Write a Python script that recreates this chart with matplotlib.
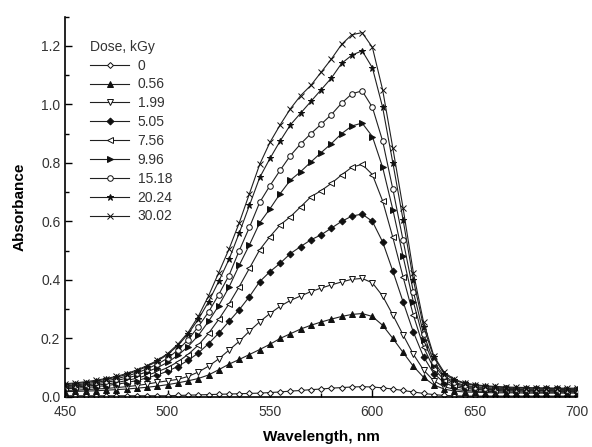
import numpy as np
import matplotlib.pyplot as plt
from matplotlib.ticker import MultipleLocator

plt.rcParams['font.family'] = ['Liberation Sans', 'DejaVu Sans']

wl = list(range(450, 701, 5))

doses = ['0', '0.56', '1.99', '5.05', '7.56', '9.96', '15.18', '20.24', '30.02']

a_0 = [0.004, 0.004, 0.004, 0.004, 0.004, 0.004, 0.004, 0.004, 0.004, 0.004,
       0.004, 0.005, 0.006, 0.007, 0.008, 0.009, 0.010, 0.011, 0.012, 0.013,
       0.015, 0.017, 0.020, 0.022, 0.025, 0.027, 0.030, 0.032, 0.034, 0.035,
       0.034, 0.031, 0.027, 0.022, 0.017, 0.012, 0.008, 0.005, 0.004, 0.003,
       0.003, 0.003, 0.003, 0.003, 0.003, 0.003, 0.003, 0.003, 0.003, 0.003, 0.003]
a_056 = [0.018, 0.019, 0.020, 0.021, 0.023, 0.025, 0.027, 0.030, 0.033, 0.037,
         0.042, 0.048, 0.055, 0.063, 0.075, 0.093, 0.112, 0.128, 0.145, 0.162,
         0.180, 0.200, 0.216, 0.232, 0.245, 0.256, 0.266, 0.275, 0.282, 0.285,
         0.275, 0.245, 0.200, 0.152, 0.105, 0.067, 0.041, 0.027, 0.020, 0.017,
         0.016, 0.015, 0.014, 0.014, 0.014, 0.013, 0.013, 0.013, 0.013, 0.013, 0.013]
a_199 = [0.022, 0.023, 0.025, 0.027, 0.029, 0.032, 0.035, 0.039, 0.044, 0.050,
         0.055, 0.060, 0.070, 0.085, 0.105, 0.130, 0.160, 0.190, 0.225, 0.257,
         0.285, 0.310, 0.330, 0.345, 0.360, 0.372, 0.383, 0.393, 0.402, 0.405,
         0.390, 0.345, 0.280, 0.212, 0.146, 0.092, 0.055, 0.035, 0.026, 0.022,
         0.020, 0.019, 0.018, 0.017, 0.017, 0.017, 0.016, 0.016, 0.016, 0.016, 0.016]
a_505 = [0.028, 0.030, 0.032, 0.035, 0.039, 0.043, 0.049, 0.056, 0.065, 0.075,
         0.088, 0.104, 0.125, 0.150, 0.182, 0.218, 0.258, 0.298, 0.343, 0.394,
         0.428, 0.457, 0.490, 0.514, 0.537, 0.554, 0.577, 0.600, 0.618, 0.625,
         0.600, 0.530, 0.430, 0.325, 0.222, 0.137, 0.080, 0.049, 0.035, 0.029,
         0.026, 0.024, 0.022, 0.021, 0.021, 0.020, 0.020, 0.020, 0.019, 0.019, 0.019]
a_756 = [0.032, 0.034, 0.037, 0.040, 0.044, 0.049, 0.056, 0.064, 0.074, 0.086,
         0.100, 0.120, 0.145, 0.177, 0.217, 0.265, 0.318, 0.377, 0.440, 0.503,
         0.548, 0.588, 0.616, 0.650, 0.684, 0.705, 0.730, 0.759, 0.785, 0.795,
         0.760, 0.670, 0.545, 0.410, 0.280, 0.170, 0.097, 0.058, 0.041, 0.033,
         0.029, 0.026, 0.025, 0.024, 0.023, 0.023, 0.022, 0.022, 0.021, 0.021, 0.021]
a_996 = [0.035, 0.038, 0.041, 0.045, 0.050, 0.056, 0.064, 0.074, 0.086, 0.100,
         0.118, 0.142, 0.172, 0.210, 0.258, 0.312, 0.375, 0.450, 0.520, 0.595,
         0.643, 0.695, 0.741, 0.770, 0.803, 0.835, 0.866, 0.900, 0.926, 0.936,
         0.890, 0.785, 0.640, 0.480, 0.325, 0.195, 0.110, 0.066, 0.046, 0.037,
         0.032, 0.029, 0.027, 0.026, 0.025, 0.025, 0.024, 0.024, 0.023, 0.023, 0.023]
a_1518 = [0.038, 0.041, 0.045, 0.050, 0.055, 0.062, 0.071, 0.082, 0.096, 0.112,
          0.132, 0.160, 0.195, 0.240, 0.290, 0.350, 0.415, 0.500, 0.580, 0.665,
          0.722, 0.775, 0.825, 0.865, 0.900, 0.932, 0.965, 1.004, 1.036, 1.046,
          0.990, 0.875, 0.710, 0.535, 0.360, 0.215, 0.120, 0.072, 0.050, 0.040,
          0.035, 0.032, 0.030, 0.029, 0.028, 0.027, 0.027, 0.026, 0.026, 0.025, 0.025]
a_2024 = [0.042, 0.045, 0.049, 0.054, 0.060, 0.067, 0.077, 0.089, 0.104, 0.122,
          0.145, 0.175, 0.215, 0.265, 0.325, 0.395, 0.470, 0.560, 0.655, 0.750,
          0.815, 0.875, 0.930, 0.970, 1.010, 1.050, 1.090, 1.140, 1.168, 1.183,
          1.125, 0.990, 0.800, 0.605, 0.400, 0.240, 0.135, 0.080, 0.057, 0.046,
          0.040, 0.036, 0.034, 0.032, 0.031, 0.030, 0.030, 0.029, 0.029, 0.028, 0.028]
a_3002 = [0.045, 0.048, 0.052, 0.057, 0.063, 0.070, 0.080, 0.092, 0.107, 0.125,
          0.148, 0.180, 0.220, 0.275, 0.345, 0.425, 0.505, 0.595, 0.695, 0.795,
          0.870, 0.930, 0.985, 1.030, 1.065, 1.110, 1.155, 1.205, 1.238, 1.245,
          1.195, 1.050, 0.850, 0.645, 0.425, 0.255, 0.140, 0.085, 0.060, 0.048,
          0.042, 0.038, 0.036, 0.034, 0.033, 0.032, 0.031, 0.031, 0.030, 0.030, 0.030]

series = [a_0, a_056, a_199, a_505, a_756, a_996, a_1518, a_2024, a_3002]

# marker, filled?
markers = [('D', False), ('^', True), ('v', False), ('D', True), ('<', False),
           ('>', True), ('o', False), ('*', True), ('x', True)]
sizes = [3, 4, 4, 3.5, 4, 4, 4, 5, 4]

fig = plt.figure(figsize=(5.92, 4.47), dpi=100)
ax = fig.add_axes([0.11, 0.112, 0.865, 0.851])

for vals, lab, (m, filled), ms in zip(series, doses, markers, sizes):
    ax.plot(wl, vals, color='#202020', lw=0.8, marker=m, ms=ms,
            mfc='#101010' if filled else 'white', mec='#101010', mew=0.7,
            label=lab)

ax.set_xlim(450, 700)
ax.set_ylim(0, 1.3)
ax.xaxis.set_major_locator(MultipleLocator(50))
ax.xaxis.set_minor_locator(MultipleLocator(25))
ax.yaxis.set_major_locator(MultipleLocator(0.2))
ax.yaxis.set_minor_locator(MultipleLocator(0.1))
ax.yaxis.set_major_formatter(plt.FormatStrFormatter('%.1f'))
ax.tick_params(which='both', direction='in', labelsize=10, labelcolor='#333333')
ax.tick_params(which='major', length=5, width=1)
ax.tick_params(which='minor', length=3, width=1)
ax.tick_params(axis='x', pad=6)
ax.spines['top'].set_visible(False)
ax.spines['right'].set_visible(False)
ax.spines['left'].set_linewidth(1.2)
ax.spines['bottom'].set_linewidth(1.2)

ax.set_xlabel('Wavelength, nm', fontsize=11, fontweight='bold', labelpad=8)
ax.set_ylabel('Absorbance', fontsize=11, fontweight='bold', labelpad=10)

leg = ax.legend(title='Dose, kGy', loc='upper left', bbox_to_anchor=(0.025, 0.972),
                frameon=False, fontsize=10, title_fontsize=10, numpoints=1,
                handlelength=2.8, labelspacing=0.35, handletextpad=0.6,
                alignment='left')
for t in leg.get_texts():
    t.set_color('#333333')
leg.get_title().set_color('#333333')

fig.savefig('out.png', dpi=100)
